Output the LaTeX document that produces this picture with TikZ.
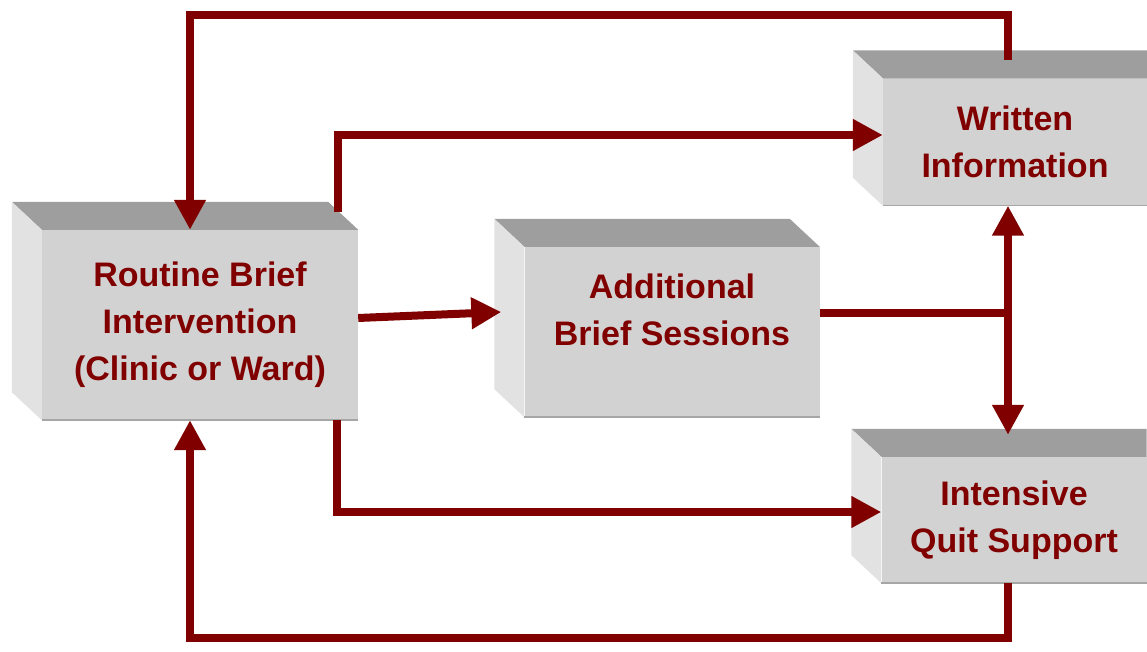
\documentclass[tikz,border=0pt]{standalone}
\usepackage{fontspec}
\setmainfont{Liberation Sans}
\usepackage{xcolor}
\usetikzlibrary{arrows.meta,positioning,calc}

\definecolor{maroon}{RGB}{128,0,0}
\definecolor{frontgray}{RGB}{210,210,210}
\definecolor{topgray}{RGB}{158,158,158}
\definecolor{sidegray}{RGB}{226,226,226}

\tikzset{
    stage/.style={fill=frontgray, inner sep=0pt, align=center, text=maroon,
        font=\fontsize{34}{47}\selectfont\bfseries},
    flow/.style={draw=maroon, line width=8pt,
        -{Triangle[length=30pt,width=30pt]}},
    both/.style={draw=maroon, line width=8pt,
        {Triangle[length=30pt,width=30pt]}-{Triangle[length=30pt,width=30pt]}},
    plain/.style={draw=maroon, line width=8pt}
}

% top and left faces of a box
\newcommand{\boxfaces}[2][-30]{%
    \fill[topgray] (#2.north west) -- ++(-30,28) -- ($(#2.north east)+(#1,28)$) -- (#2.north east) -- cycle;
    \fill[sidegray] (#2.north west) -- ++(-30,28) -- ($(#2.south west)+(-30,28)$) -- (#2.south west) -- cycle;
    \draw[gray!70, line width=1.5pt] (#2.south west) -- (#2.south east);
}

\begin{document}
\begin{tikzpicture}[x=1pt, y=1pt]
    \useasboundingbox (0,0) rectangle (1147,651);

    % Boxes
    \node[stage, minimum width=316pt, minimum height=190pt] (routine) at (200,326)
        {Routine Brief\\Intervention\\(Clinic or Ward)};
    \node[stage, minimum width=295pt, minimum height=170pt] (add) at (672,319) {};
    \node[stage, anchor=center] (addtxt) at ($(add.center)+(0,22)$) {Additional\\Brief Sessions};
    \node[stage, minimum width=264pt, minimum height=127pt] (wri) at (1015,509)
        {Written\\Information};
    \node[stage, minimum width=265pt, minimum height=126pt] (int) at (1014,131)
        {Intensive\\Quit Support};
    \boxfaces{routine}
    \boxfaces{add}
    \boxfaces[0]{wri}
    \boxfaces[0]{int}

    % Corners of the loops
    \coordinate (tl) at (190,636);
    \coordinate (tr) at (1008,636);
    \coordinate (bl) at (190,13);
    \coordinate (br) at (1008,13);
    \coordinate (jn) at (1008,338);

    % Written -> Routine (top loop)
    \draw[flow] ($(wri.north -| tr)+(0,18)$) -- (tr) -- (tl) -- (routine.north -| tl);

    % Routine -> Written
    \draw[flow] ($(routine.north east)+(-20,18)$) |- ($(wri.west)+(0,7)$);

    % Routine -> Additional
    \draw[flow] ($(routine.east)+(0,7)$) -- ($(add.west)+(-23,20)$);

    % Additional -> Written / Intensive
    \draw[plain] ($(add.east)+(0,19)$) -- (jn);
    \draw[both] (wri.south -| jn) -- ($(int.north -| jn)+(0,22)$);

    % Routine -> Intensive
    \draw[flow] ($(routine.south east)+(-21,0)$) |- ($(int.west)+(0,8)$);

    % Intensive -> Routine (bottom loop)
    \draw[flow] (int.south -| br) -- (br) -- (bl) -- (routine.south -| bl);

\end{tikzpicture}
\end{document}
